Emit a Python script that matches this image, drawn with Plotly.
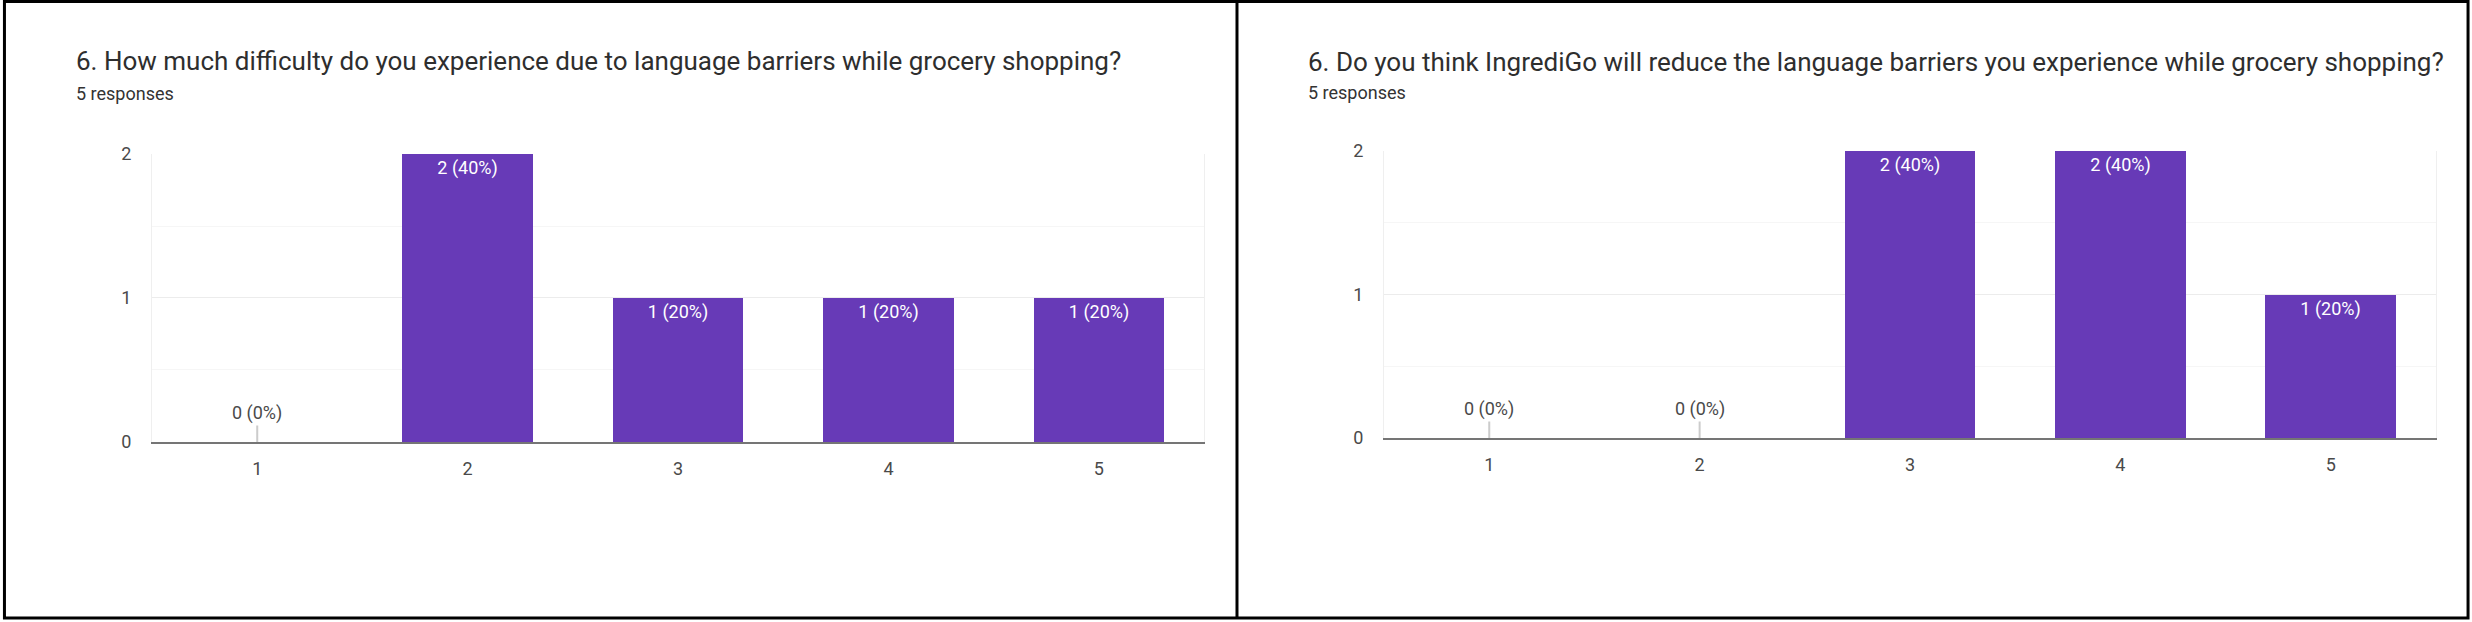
import plotly.graph_objects as go

# survey data (5 responses each)
scale = [1, 2, 3, 4, 5]
difficulty_counts = [0, 2, 1, 1, 1]
reduce_counts = [0, 0, 2, 2, 1]
n_responses = 5

title_left = "6. How much difficulty do you experience due to language barriers while grocery shopping?"
title_right = "6. Do you think IngrediGo will reduce the language barriers you experience while grocery shopping?"
subtitle = "5 responses"

purple = "#673ab7"
font_name = "Roboto"


def labels(counts):
    return [f"{c} ({round(c / n_responses * 100)}%)" if c else "" for c in counts]


fig = go.Figure()

fig.add_trace(go.Bar(x=scale, y=difficulty_counts, xaxis="x", yaxis="y",
                     marker=dict(color=purple, line=dict(width=0)), width=0.62,
                     text=labels(difficulty_counts), textposition="inside",
                     insidetextanchor="end", textangle=0,
                     textfont=dict(color="white", size=18, family=font_name),
                     hoverinfo="skip"))
fig.add_trace(go.Bar(x=scale, y=reduce_counts, xaxis="x2", yaxis="y2",
                     marker=dict(color=purple, line=dict(width=0)), width=0.62,
                     text=labels(reduce_counts), textposition="inside",
                     insidetextanchor="end", textangle=0,
                     textfont=dict(color="white", size=18, family=font_name),
                     hoverinfo="skip"))

x_common = dict(range=[0.5, 5.5], tickvals=scale, showgrid=False, zeroline=False,
                showline=True, linecolor="#757575", linewidth=2, automargin=False,
                ticks="outside", ticklen=9, tickcolor="rgba(0,0,0,0)",
                tickfont=dict(size=18, color="#4a4a4a", family=font_name))
y_common = dict(range=[0, 2], tickvals=[0, 1, 2], showgrid=True, gridcolor="#ececec",
                gridwidth=1, zeroline=False, showline=True, mirror=True,
                linecolor="#efefef", linewidth=1, automargin=False,
                minor=dict(dtick=0.5, showgrid=True, gridcolor="#f6f6f6"),
                ticks="outside", ticklen=16, tickcolor="rgba(0,0,0,0)",
                tickfont=dict(size=18, color="#4a4a4a", family=font_name))

fig.update_layout(
    width=2472, height=622,
    margin=dict(l=0, r=0, t=0, b=0, pad=0, autoexpand=False),
    paper_bgcolor="white", plot_bgcolor="white",
    showlegend=False, bargap=0,
    font=dict(family=font_name, color="#444444"),
    xaxis=dict(domain=[0.0615, 0.4871], anchor="y", **x_common),
    yaxis=dict(domain=[0.2894, 0.7524], anchor="x", **y_common),
    xaxis2=dict(domain=[0.5599, 0.9854], anchor="y2", **x_common),
    yaxis2=dict(domain=[0.2958, 0.7572], anchor="x2", **y_common),
)

# titles
for x, yt, ys, text in [(0.0299, 0.9019, 0.8489, title_left),
                        (0.5283, 0.9003, 0.8505, title_right)]:
    fig.add_annotation(x=x, y=yt, xref="paper", yref="paper", text=text,
                       showarrow=False, xanchor="left", yanchor="middle",
                       font=dict(size=26, color="#2e2e2e", family=font_name))
    fig.add_annotation(x=x, y=ys, xref="paper", yref="paper", text=subtitle,
                       showarrow=False, xanchor="left", yanchor="middle",
                       font=dict(size=18, color="#333333", family=font_name))

# labels for the empty bars, with a small stem
for xr, yr, counts in [("x", "y", difficulty_counts), ("x2", "y2", reduce_counts)]:
    for s, c in zip(scale, counts):
        if c == 0:
            fig.add_annotation(x=s, y=0, xref=xr, yref=yr, text="0 (0%)",
                               showarrow=True, arrowhead=0, arrowwidth=2,
                               arrowcolor="#cccccc", ax=0, ay=-29, standoff=0,
                               font=dict(size=18, color="#4a4a4a", family=font_name))

# panel borders
fig.add_shape(type="rect", xref="paper", yref="paper",
              x0=0.0018, x1=0.9984, y0=0.0064, y1=0.9976,
              line=dict(color="black", width=3))
fig.add_shape(type="line", xref="paper", yref="paper",
              x0=0.5004, x1=0.5004, y0=0.0064, y1=0.9976,
              line=dict(color="black", width=3))

fig.write_html("out.html", config={"displayModeBar": False},
               post_script="document.body.style.margin='0';"
                           "document.body.style.overflow='hidden';")
